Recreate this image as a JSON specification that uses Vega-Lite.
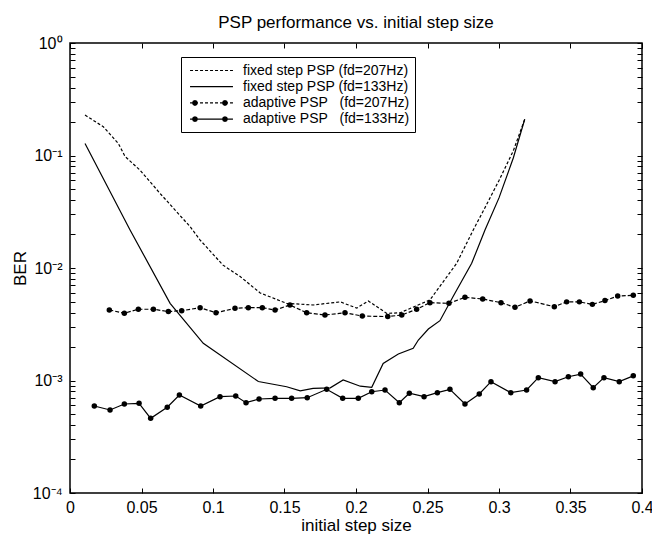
{
  "$schema": "https://vega.github.io/schema/vega-lite/v6.json",
  "autosize": "none",
  "padding": {"left": 70, "top": 43, "right": 10, "bottom": 47},
  "width": 572,
  "height": 450,
  "background": "white",
  "title": {"text": "PSP performance vs. initial step size", "fontSize": 17, "font": "Liberation Sans", "fontWeight": "normal", "color": "black", "offset": 3},
  "config": {
    "view": {"stroke": "black", "strokeWidth": 1.5},
    "font": "Liberation Sans"
  },
  "datasets": {
    "pts": [
      {"s": "fixed step PSP (fd=207Hz)", "x": 0.0105, "y": 0.229},
      {"s": "fixed step PSP (fd=207Hz)", "x": 0.0233, "y": 0.18},
      {"s": "fixed step PSP (fd=207Hz)", "x": 0.0338, "y": 0.128},
      {"s": "fixed step PSP (fd=207Hz)", "x": 0.0385, "y": 0.098},
      {"s": "fixed step PSP (fd=207Hz)", "x": 0.049, "y": 0.074},
      {"s": "fixed step PSP (fd=207Hz)", "x": 0.063, "y": 0.046},
      {"s": "fixed step PSP (fd=207Hz)", "x": 0.084, "y": 0.0233},
      {"s": "fixed step PSP (fd=207Hz)", "x": 0.091, "y": 0.0177},
      {"s": "fixed step PSP (fd=207Hz)", "x": 0.107, "y": 0.0106},
      {"s": "fixed step PSP (fd=207Hz)", "x": 0.119, "y": 0.0084},
      {"s": "fixed step PSP (fd=207Hz)", "x": 0.133, "y": 0.006},
      {"s": "fixed step PSP (fd=207Hz)", "x": 0.1515, "y": 0.00485},
      {"s": "fixed step PSP (fd=207Hz)", "x": 0.17, "y": 0.00469},
      {"s": "fixed step PSP (fd=207Hz)", "x": 0.189, "y": 0.005},
      {"s": "fixed step PSP (fd=207Hz)", "x": 0.2005, "y": 0.0044},
      {"s": "fixed step PSP (fd=207Hz)", "x": 0.2086, "y": 0.0051},
      {"s": "fixed step PSP (fd=207Hz)", "x": 0.2215, "y": 0.00395},
      {"s": "fixed step PSP (fd=207Hz)", "x": 0.2308, "y": 0.004},
      {"s": "fixed step PSP (fd=207Hz)", "x": 0.2517, "y": 0.0052},
      {"s": "fixed step PSP (fd=207Hz)", "x": 0.2704, "y": 0.011},
      {"s": "fixed step PSP (fd=207Hz)", "x": 0.282, "y": 0.0218},
      {"s": "fixed step PSP (fd=207Hz)", "x": 0.29, "y": 0.034},
      {"s": "fixed step PSP (fd=207Hz)", "x": 0.3, "y": 0.06},
      {"s": "fixed step PSP (fd=207Hz)", "x": 0.31, "y": 0.11},
      {"s": "fixed step PSP (fd=207Hz)", "x": 0.318, "y": 0.21},

      {"s": "fixed step PSP (fd=133Hz)", "x": 0.0105, "y": 0.128},
      {"s": "fixed step PSP (fd=133Hz)", "x": 0.042, "y": 0.0218},
      {"s": "fixed step PSP (fd=133Hz)", "x": 0.07, "y": 0.00485},
      {"s": "fixed step PSP (fd=133Hz)", "x": 0.0932, "y": 0.00214},
      {"s": "fixed step PSP (fd=133Hz)", "x": 0.1317, "y": 0.00098},
      {"s": "fixed step PSP (fd=133Hz)", "x": 0.1515, "y": 0.00088},
      {"s": "fixed step PSP (fd=133Hz)", "x": 0.161, "y": 0.00081},
      {"s": "fixed step PSP (fd=133Hz)", "x": 0.17, "y": 0.00085},
      {"s": "fixed step PSP (fd=133Hz)", "x": 0.182, "y": 0.00086},
      {"s": "fixed step PSP (fd=133Hz)", "x": 0.191, "y": 0.00101},
      {"s": "fixed step PSP (fd=133Hz)", "x": 0.203, "y": 0.00089},
      {"s": "fixed step PSP (fd=133Hz)", "x": 0.211, "y": 0.00087},
      {"s": "fixed step PSP (fd=133Hz)", "x": 0.219, "y": 0.00142},
      {"s": "fixed step PSP (fd=133Hz)", "x": 0.2296, "y": 0.00172},
      {"s": "fixed step PSP (fd=133Hz)", "x": 0.24, "y": 0.00193},
      {"s": "fixed step PSP (fd=133Hz)", "x": 0.2436, "y": 0.00229},
      {"s": "fixed step PSP (fd=133Hz)", "x": 0.2506, "y": 0.00287},
      {"s": "fixed step PSP (fd=133Hz)", "x": 0.2587, "y": 0.0034},
      {"s": "fixed step PSP (fd=133Hz)", "x": 0.268, "y": 0.0056},
      {"s": "fixed step PSP (fd=133Hz)", "x": 0.2809, "y": 0.011},
      {"s": "fixed step PSP (fd=133Hz)", "x": 0.2902, "y": 0.0218},
      {"s": "fixed step PSP (fd=133Hz)", "x": 0.3, "y": 0.042},
      {"s": "fixed step PSP (fd=133Hz)", "x": 0.31, "y": 0.095},
      {"s": "fixed step PSP (fd=133Hz)", "x": 0.318, "y": 0.21},

      {"s": "adaptive PSP\u00a0\u00a0 (fd=207Hz)", "x": 0.0275, "y": 0.00424},
      {"s": "adaptive PSP\u00a0\u00a0 (fd=207Hz)", "x": 0.038, "y": 0.00396},
      {"s": "adaptive PSP\u00a0\u00a0 (fd=207Hz)", "x": 0.0478, "y": 0.0043},
      {"s": "adaptive PSP\u00a0\u00a0 (fd=207Hz)", "x": 0.0583, "y": 0.0043},
      {"s": "adaptive PSP\u00a0\u00a0 (fd=207Hz)", "x": 0.0688, "y": 0.0041},
      {"s": "adaptive PSP\u00a0\u00a0 (fd=207Hz)", "x": 0.0781, "y": 0.00417},
      {"s": "adaptive PSP\u00a0\u00a0 (fd=207Hz)", "x": 0.091, "y": 0.00444},
      {"s": "adaptive PSP\u00a0\u00a0 (fd=207Hz)", "x": 0.1021, "y": 0.004},
      {"s": "adaptive PSP\u00a0\u00a0 (fd=207Hz)", "x": 0.1154, "y": 0.00438},
      {"s": "adaptive PSP\u00a0\u00a0 (fd=207Hz)", "x": 0.1247, "y": 0.00444},
      {"s": "adaptive PSP\u00a0\u00a0 (fd=207Hz)", "x": 0.1345, "y": 0.00444},
      {"s": "adaptive PSP\u00a0\u00a0 (fd=207Hz)", "x": 0.1434, "y": 0.00423},
      {"s": "adaptive PSP\u00a0\u00a0 (fd=207Hz)", "x": 0.1538, "y": 0.00469},
      {"s": "adaptive PSP\u00a0\u00a0 (fd=207Hz)", "x": 0.1655, "y": 0.004},
      {"s": "adaptive PSP\u00a0\u00a0 (fd=207Hz)", "x": 0.1783, "y": 0.00382},
      {"s": "adaptive PSP\u00a0\u00a0 (fd=207Hz)", "x": 0.1923, "y": 0.004},
      {"s": "adaptive PSP\u00a0\u00a0 (fd=207Hz)", "x": 0.2044, "y": 0.00374},
      {"s": "adaptive PSP\u00a0\u00a0 (fd=207Hz)", "x": 0.2222, "y": 0.0037},
      {"s": "adaptive PSP\u00a0\u00a0 (fd=207Hz)", "x": 0.232, "y": 0.00382},
      {"s": "adaptive PSP\u00a0\u00a0 (fd=207Hz)", "x": 0.2424, "y": 0.0043},
      {"s": "adaptive PSP\u00a0\u00a0 (fd=207Hz)", "x": 0.2517, "y": 0.00492},
      {"s": "adaptive PSP\u00a0\u00a0 (fd=207Hz)", "x": 0.265, "y": 0.00485},
      {"s": "adaptive PSP\u00a0\u00a0 (fd=207Hz)", "x": 0.2762, "y": 0.00549},
      {"s": "adaptive PSP\u00a0\u00a0 (fd=207Hz)", "x": 0.2886, "y": 0.0053},
      {"s": "adaptive PSP\u00a0\u00a0 (fd=207Hz)", "x": 0.3014, "y": 0.00492},
      {"s": "adaptive PSP\u00a0\u00a0 (fd=207Hz)", "x": 0.3112, "y": 0.00447},
      {"s": "adaptive PSP\u00a0\u00a0 (fd=207Hz)", "x": 0.3217, "y": 0.0051},
      {"s": "adaptive PSP\u00a0\u00a0 (fd=207Hz)", "x": 0.3387, "y": 0.00453},
      {"s": "adaptive PSP\u00a0\u00a0 (fd=207Hz)", "x": 0.3473, "y": 0.005},
      {"s": "adaptive PSP\u00a0\u00a0 (fd=207Hz)", "x": 0.3562, "y": 0.005},
      {"s": "adaptive PSP\u00a0\u00a0 (fd=207Hz)", "x": 0.3653, "y": 0.00475},
      {"s": "adaptive PSP\u00a0\u00a0 (fd=207Hz)", "x": 0.3741, "y": 0.00513},
      {"s": "adaptive PSP\u00a0\u00a0 (fd=207Hz)", "x": 0.383, "y": 0.00564},
      {"s": "adaptive PSP\u00a0\u00a0 (fd=207Hz)", "x": 0.3939, "y": 0.00572},

      {"s": "adaptive PSP\u00a0\u00a0 (fd=133Hz)", "x": 0.017, "y": 0.000593},
      {"s": "adaptive PSP\u00a0\u00a0 (fd=133Hz)", "x": 0.028, "y": 0.000547},
      {"s": "adaptive PSP\u00a0\u00a0 (fd=133Hz)", "x": 0.038, "y": 0.000618},
      {"s": "adaptive PSP\u00a0\u00a0 (fd=133Hz)", "x": 0.0483, "y": 0.000627},
      {"s": "adaptive PSP\u00a0\u00a0 (fd=133Hz)", "x": 0.0564, "y": 0.000461},
      {"s": "adaptive PSP\u00a0\u00a0 (fd=133Hz)", "x": 0.068, "y": 0.000578},
      {"s": "adaptive PSP\u00a0\u00a0 (fd=133Hz)", "x": 0.0765, "y": 0.000743},
      {"s": "adaptive PSP\u00a0\u00a0 (fd=133Hz)", "x": 0.0914, "y": 0.000593},
      {"s": "adaptive PSP\u00a0\u00a0 (fd=133Hz)", "x": 0.1049, "y": 0.000718},
      {"s": "adaptive PSP\u00a0\u00a0 (fd=133Hz)", "x": 0.1159, "y": 0.000728},
      {"s": "adaptive PSP\u00a0\u00a0 (fd=133Hz)", "x": 0.1231, "y": 0.000635},
      {"s": "adaptive PSP\u00a0\u00a0 (fd=133Hz)", "x": 0.1322, "y": 0.000685},
      {"s": "adaptive PSP\u00a0\u00a0 (fd=133Hz)", "x": 0.1434, "y": 0.000694},
      {"s": "adaptive PSP\u00a0\u00a0 (fd=133Hz)", "x": 0.155, "y": 0.000694},
      {"s": "adaptive PSP\u00a0\u00a0 (fd=133Hz)", "x": 0.1659, "y": 0.000703},
      {"s": "adaptive PSP\u00a0\u00a0 (fd=133Hz)", "x": 0.1795, "y": 0.000835},
      {"s": "adaptive PSP\u00a0\u00a0 (fd=133Hz)", "x": 0.1907, "y": 0.000694},
      {"s": "adaptive PSP\u00a0\u00a0 (fd=133Hz)", "x": 0.2016, "y": 0.000694},
      {"s": "adaptive PSP\u00a0\u00a0 (fd=133Hz)", "x": 0.211, "y": 0.000795},
      {"s": "adaptive PSP\u00a0\u00a0 (fd=133Hz)", "x": 0.2203, "y": 0.000823},
      {"s": "adaptive PSP\u00a0\u00a0 (fd=133Hz)", "x": 0.2303, "y": 0.000635},
      {"s": "adaptive PSP\u00a0\u00a0 (fd=133Hz)", "x": 0.2373, "y": 0.00077},
      {"s": "adaptive PSP\u00a0\u00a0 (fd=133Hz)", "x": 0.2476, "y": 0.000718},
      {"s": "adaptive PSP\u00a0\u00a0 (fd=133Hz)", "x": 0.2569, "y": 0.00078},
      {"s": "adaptive PSP\u00a0\u00a0 (fd=133Hz)", "x": 0.2657, "y": 0.000835},
      {"s": "adaptive PSP\u00a0\u00a0 (fd=133Hz)", "x": 0.2762, "y": 0.000618},
      {"s": "adaptive PSP\u00a0\u00a0 (fd=133Hz)", "x": 0.2862, "y": 0.000759},
      {"s": "adaptive PSP\u00a0\u00a0 (fd=133Hz)", "x": 0.2944, "y": 0.000977},
      {"s": "adaptive PSP\u00a0\u00a0 (fd=133Hz)", "x": 0.3082, "y": 0.00078},
      {"s": "adaptive PSP\u00a0\u00a0 (fd=133Hz)", "x": 0.3193, "y": 0.000823},
      {"s": "adaptive PSP\u00a0\u00a0 (fd=133Hz)", "x": 0.3275, "y": 0.00106},
      {"s": "adaptive PSP\u00a0\u00a0 (fd=133Hz)", "x": 0.3392, "y": 0.000977},
      {"s": "adaptive PSP\u00a0\u00a0 (fd=133Hz)", "x": 0.3485, "y": 0.00108},
      {"s": "adaptive PSP\u00a0\u00a0 (fd=133Hz)", "x": 0.3571, "y": 0.00114},
      {"s": "adaptive PSP\u00a0\u00a0 (fd=133Hz)", "x": 0.3659, "y": 0.000863},
      {"s": "adaptive PSP\u00a0\u00a0 (fd=133Hz)", "x": 0.3734, "y": 0.00106},
      {"s": "adaptive PSP\u00a0\u00a0 (fd=133Hz)", "x": 0.3841, "y": 0.000977},
      {"s": "adaptive PSP\u00a0\u00a0 (fd=133Hz)", "x": 0.3939, "y": 0.0011}
    ]
  },
  "data": {"name": "pts"},
  "resolve": {"axis": {"x": "independent", "y": "independent"}},
  "layer": [
    {
      "transform": [{"filter": "indexof(datum.s, 'fixed') === 0 && indexof(datum.s, '207') > 0"}],
      "mark": {"type": "line", "color": "black", "strokeWidth": 1.2, "strokeDash": [3, 2]},
      "encoding": {
        "x": {"field": "x", "type": "quantitative",
              "scale": {"domain": [0, 0.4], "nice": false, "zero": false},
              "axis": {"orient": "bottom", "title": "initial step size", "values": [0, 0.05, 0.1, 0.15, 0.2, 0.25, 0.3, 0.35, 0.4], "format": "~g",
                       "grid": false, "domain": false, "tickSize": -5, "tickColor": "black", "tickWidth": 1,
                       "labelFontSize": 16, "labelColor": "black", "labelPadding": 11, "labelFlush": false, "labelOverlap": false,
                       "titleFontSize": 17, "titleFontWeight": "normal", "titleColor": "black", "titlePadding": 2}},
        "y": {"field": "y", "type": "quantitative",
              "scale": {"type": "log", "domain": [0.0001, 1], "nice": false},
              "axis": {"orient": "left", "title": "BER",
                       "values": [0.0001,0.0002,0.0003,0.0004,0.0005,0.0006,0.0007,0.0008,0.0009,0.001,0.002,0.003,0.004,0.005,0.006,0.007,0.008,0.009,0.01,0.02,0.03,0.04,0.05,0.06,0.07,0.08,0.09,0.1,0.2,0.3,0.4,0.5,0.6,0.7,0.8,0.9,1],
                       "labelExpr": "abs(log(datum.value)/LN10 - round(log(datum.value)/LN10)) < 0.001 ? ['10⁻⁴','10⁻³','10⁻²','10⁻¹','10⁰'][round(log(datum.value)/LN10)+4] : ''",
                       "grid": false, "domain": false, "tickSize": -5, "tickColor": "black", "tickWidth": 1,
                       "labelFontSize": 16, "labelColor": "black", "labelPadding": 13, "labelFlush": false, "labelOverlap": false,
                       "titleFontSize": 17, "titleFontWeight": "normal", "titleColor": "black", "titlePadding": 3}}
      }
    },
    {
      "transform": [{"filter": "indexof(datum.s, 'fixed') === 0 && indexof(datum.s, '133') > 0"}],
      "mark": {"type": "line", "color": "black", "strokeWidth": 1.2},
      "encoding": {
        "x": {"field": "x", "type": "quantitative", "axis": null},
        "y": {"field": "y", "type": "quantitative", "axis": null}
      }
    },
    {
      "transform": [{"filter": "indexof(datum.s, 'adaptive') === 0 && indexof(datum.s, '207') > 0"}],
      "mark": {"type": "line", "color": "black", "strokeWidth": 1.2, "strokeDash": [4, 2]},
      "encoding": {
        "x": {"field": "x", "type": "quantitative", "axis": null},
        "y": {"field": "y", "type": "quantitative", "axis": null}
      }
    },
    {
      "transform": [{"filter": "indexof(datum.s, 'adaptive') === 0 && indexof(datum.s, '133') > 0"}],
      "mark": {"type": "line", "color": "black", "strokeWidth": 1.2},
      "encoding": {
        "x": {"field": "x", "type": "quantitative", "axis": null},
        "y": {"field": "y", "type": "quantitative", "axis": null}
      }
    },
    {
      "transform": [{"filter": "indexof(datum.s, 'adaptive') === 0"}],
      "mark": {"type": "point", "filled": true, "color": "black", "size": 30, "opacity": 1},
      "encoding": {
        "x": {"field": "x", "type": "quantitative",
              "axis": {"orient": "top", "title": null, "values": [0, 0.05, 0.1, 0.15, 0.2, 0.25, 0.3, 0.35, 0.4], "labels": false,
                       "grid": false, "domain": false, "tickSize": -5, "tickColor": "black", "tickWidth": 1}},
        "y": {"field": "y", "type": "quantitative",
              "axis": {"orient": "right", "title": null, "labels": false,
                       "values": [0.0001,0.0002,0.0003,0.0004,0.0005,0.0006,0.0007,0.0008,0.0009,0.001,0.002,0.003,0.004,0.005,0.006,0.007,0.008,0.009,0.01,0.02,0.03,0.04,0.05,0.06,0.07,0.08,0.09,0.1,0.2,0.3,0.4,0.5,0.6,0.7,0.8,0.9,1],
                       "grid": false, "domain": false, "tickSize": -5, "tickColor": "black", "tickWidth": 1}}
      }
    },
    {
      "mark": {"type": "point", "filled": true, "fill": "black", "stroke": "black", "strokeWidth": 1.2, "opacity": 0},
      "encoding": {
        "x": {"field": "x", "type": "quantitative", "axis": null},
        "y": {"field": "y", "type": "quantitative", "axis": null},
        "shape": {"field": "s", "type": "nominal",
          "scale": {"domain": ["fixed step PSP (fd=207Hz)", "fixed step PSP (fd=133Hz)", "adaptive PSP\u00a0\u00a0 (fd=207Hz)", "adaptive PSP\u00a0\u00a0 (fd=133Hz)"],
                    "range": [
                      "M-0.525,-0.07L-0.172,-0.07L-0.172,0.07L-0.525,0.07ZM0.063,-0.07L0.416,-0.07L0.416,0.07L0.063,0.07ZM0.651,-0.07L1.004,-0.07L1.004,0.07L0.651,0.07ZM1.239,-0.07L1.592,-0.07L1.592,0.07L1.239,0.07ZM1.827,-0.07L2.18,-0.07L2.18,0.07L1.827,0.07ZM2.415,-0.07L2.768,-0.07L2.768,0.07L2.415,0.07ZM3.003,-0.07L3.356,-0.07L3.356,0.07L3.003,0.07ZM3.591,-0.07L3.944,-0.07L3.944,0.07L3.591,0.07ZM4.179,-0.07L4.525,-0.07L4.525,0.07L4.179,0.07Z",
                      "M-0.525,-0.07L4.525,-0.07L4.525,0.07L-0.525,0.07Z",
                      "M-0.525,-0.07L-0.172,-0.07L-0.172,0.07L-0.525,0.07ZM0.063,-0.07L0.416,-0.07L0.416,0.07L0.063,0.07ZM0.651,-0.07L1.004,-0.07L1.004,0.07L0.651,0.07ZM1.239,-0.07L1.592,-0.07L1.592,0.07L1.239,0.07ZM1.827,-0.07L2.18,-0.07L2.18,0.07L1.827,0.07ZM2.415,-0.07L2.768,-0.07L2.768,0.07L2.415,0.07ZM3.003,-0.07L3.356,-0.07L3.356,0.07L3.003,0.07ZM3.591,-0.07L3.944,-0.07L3.944,0.07L3.591,0.07ZM4.179,-0.07L4.525,-0.07L4.525,0.07L4.179,0.07ZM-0.295,0L-0.195,-0.25L0.055,-0.35L0.305,-0.25L0.405,0L0.305,0.25L0.055,0.35L-0.195,0.25ZM3.235,0L3.335,-0.25L3.585,-0.35L3.835,-0.25L3.935,0L3.835,0.25L3.585,0.35L3.335,0.25Z",
                      "M-0.525,-0.07L4.525,-0.07L4.525,0.07L-0.525,0.07ZM-0.295,0L-0.195,-0.25L0.055,-0.35L0.305,-0.25L0.405,0L0.305,0.25L0.055,0.35L-0.195,0.25ZM3.235,0L3.335,-0.25L3.585,-0.35L3.835,-0.25L3.935,0L3.835,0.25L3.585,0.35L3.335,0.25Z"
                    ]},
          "legend": {"orient": "none", "legendX": 111, "legendY": 14, "title": null,
                     "strokeColor": "black", "fillColor": "white", "padding": 5,
                     "labelFontSize": 14, "labelColor": "black", "labelFont": "Liberation Sans", "labelLimit": 0,
                     "labelExpr": "datum.label + '\u00a0\u00a0\u00a0\u00a0\u00a0\u00a0\u00a0\u00a0'",
                     "symbolSize": 289, "symbolOpacity": 1, "symbolFillColor": "black", "symbolStrokeColor": "black", "symbolStrokeWidth": 0,
                     "labelOffset": 40, "rowPadding": 0.2}}
      }
    }
  ]
}
